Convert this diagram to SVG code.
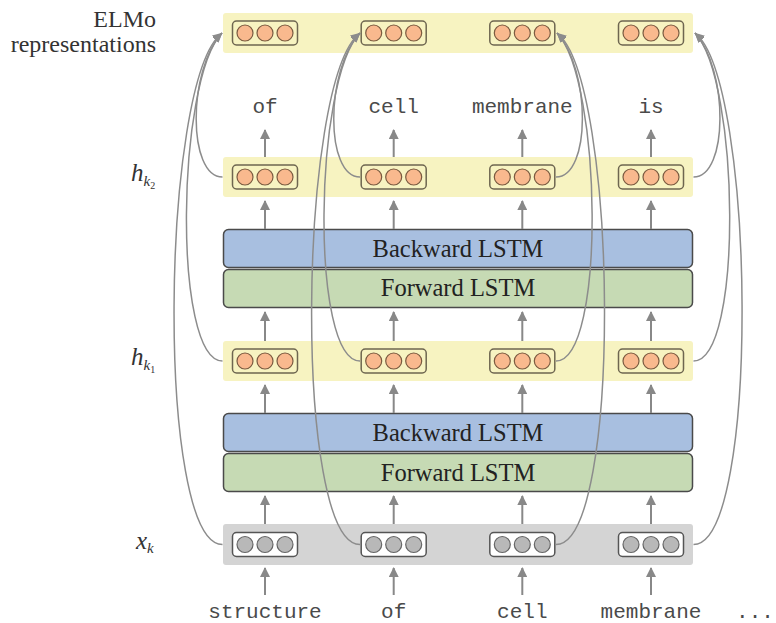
<svg xmlns="http://www.w3.org/2000/svg" width="776" height="623" viewBox="0 0 776 623">
  <style>
    .band-y { fill: #f7f3c1; }
    .band-g { fill: #d4d4d4; }
    .vec { fill: #f7f3c1; stroke: #6e6650; stroke-width: 1.5; }
    .vec-in { fill: #ffffff; stroke: #555555; stroke-width: 1.5; }
    .dot { fill: #f9b98e; stroke: #7a5a40; stroke-width: 1.2; }
    .dot-in { fill: #b8b8b8; stroke: #666666; stroke-width: 1.2; }
    .bwd { fill: #a8bfe0; stroke: #4a4a4a; stroke-width: 1.5; }
    .fwd { fill: #c6dab4; stroke: #4a4a4a; stroke-width: 1.5; }
    .lstm-t { font-family: "Liberation Serif", "DejaVu Serif", serif; font-size: 24.5px; fill: #222222; text-anchor: middle; }
    .side { font-family: "Liberation Serif", "DejaVu Serif", serif; font-size: 24px; fill: #333333; }
    .word { font-family: "Liberation Mono", "DejaVu Sans Mono", monospace; font-size: 21px; fill: #4a4a4a; text-anchor: middle; }
    .up { stroke: #888888; stroke-width: 2; fill: none; marker-end: url(#tip); }
    .skip { stroke: #8c8c8c; stroke-width: 1.5; fill: none; marker-end: url(#tip-s); }
  </style>
  <defs>
    <marker id="tip" viewBox="0 0 10 10" refX="9" refY="5" markerWidth="10" markerHeight="10" markerUnits="userSpaceOnUse" orient="auto">
      <path d="M0,0 L10,5 L0,10 z" fill="#888888"/>
    </marker>
    <marker id="tip-s" viewBox="0 0 10 8" refX="9.5" refY="4" markerWidth="10" markerHeight="8" markerUnits="userSpaceOnUse" orient="auto">
      <path d="M0,0 L10,4 L0,8 z" fill="#8c8c8c"/>
    </marker>
    <!-- one state vector: a rounded box holding three units -->
    <g id="vec-h">
      <rect x="-32.5" y="-12" width="65" height="24" rx="4" class="vec"/>
      <circle cx="-20" cy="0" r="8" class="dot"/>
      <circle cx="0" cy="0" r="8" class="dot"/>
      <circle cx="20" cy="0" r="8" class="dot"/>
    </g>
    <g id="vec-x">
      <rect x="-32.5" y="-12" width="65" height="24" rx="4" class="vec-in"/>
      <circle cx="-20" cy="0" r="8" class="dot-in"/>
      <circle cx="0" cy="0" r="8" class="dot-in"/>
      <circle cx="20" cy="0" r="8" class="dot-in"/>
    </g>
    <!-- the six upward links of one column -->
    <g id="col-ups">
      <path class="up" d="M0,595 V568"/>
      <path class="up" d="M0,524 V496"/>
      <path class="up" d="M0,413 V385"/>
      <path class="up" d="M0,341 V312"/>
      <path class="up" d="M0,229 V201"/>
      <path class="up" d="M0,157 V130"/>
    </g>
  </defs>

  <!-- row labels -->
  <g id="labels">
    <text class="side" x="156" y="27" text-anchor="end">ELMo</text>
    <text class="side" x="156" y="52" text-anchor="end">representations</text>
    <text class="side" x="131" y="181"><tspan font-style="italic" font-size="25">h</tspan><tspan font-style="italic" font-size="15" dy="5">k</tspan><tspan font-size="10" dy="3">2</tspan></text>
    <text class="side" x="131" y="365"><tspan font-style="italic" font-size="25">h</tspan><tspan font-style="italic" font-size="15" dy="5">k</tspan><tspan font-size="10" dy="3">1</tspan></text>
    <text class="side" x="136" y="549"><tspan font-style="italic" font-size="25">x</tspan><tspan font-style="italic" font-size="15" dy="4">k</tspan></text>
  </g>

  <!-- row bands -->
  <g id="bands">
    <rect class="band-y" x="223" y="13" width="470" height="40" rx="3"/>
    <rect class="band-y" x="223" y="157" width="470" height="40" rx="3"/>
    <rect class="band-y" x="223" y="341" width="470" height="40" rx="3"/>
    <rect class="band-g" x="223" y="524" width="470" height="41" rx="3"/>
  </g>

  <!-- biLSTM layers -->
  <g id="lstm2-bwd"><rect class="bwd" x="223.5" y="229.5" width="469" height="38" rx="5"/><text class="lstm-t" x="458" y="256.5">Backward LSTM</text></g>
  <g id="lstm2-fwd"><rect class="fwd" x="223.5" y="269.5" width="469" height="38" rx="5"/><text class="lstm-t" x="458" y="296">Forward LSTM</text></g>
  <g id="lstm1-bwd"><rect class="bwd" x="223.5" y="413.5" width="469" height="38" rx="5"/><text class="lstm-t" x="458" y="440.5">Backward LSTM</text></g>
  <g id="lstm1-fwd"><rect class="fwd" x="223.5" y="453.5" width="469" height="38" rx="5"/><text class="lstm-t" x="458" y="480.5">Forward LSTM</text></g>

  <!-- vectors: ELMo row -->
  <g id="elmo-1"><use href="#vec-h" x="265" y="33"/></g>
  <g id="elmo-2"><use href="#vec-h" x="393.7" y="33"/></g>
  <g id="elmo-3"><use href="#vec-h" x="522.3" y="33"/></g>
  <g id="elmo-4"><use href="#vec-h" x="651" y="33"/></g>
  <!-- vectors: second hidden layer -->
  <g id="h2-1"><use href="#vec-h" x="265" y="177"/></g>
  <g id="h2-2"><use href="#vec-h" x="393.7" y="177"/></g>
  <g id="h2-3"><use href="#vec-h" x="522.3" y="177"/></g>
  <g id="h2-4"><use href="#vec-h" x="651" y="177"/></g>
  <!-- vectors: first hidden layer -->
  <g id="h1-1"><use href="#vec-h" x="265" y="361"/></g>
  <g id="h1-2"><use href="#vec-h" x="393.7" y="361"/></g>
  <g id="h1-3"><use href="#vec-h" x="522.3" y="361"/></g>
  <g id="h1-4"><use href="#vec-h" x="651" y="361"/></g>
  <!-- vectors: token inputs -->
  <g id="x-1"><use href="#vec-x" x="265" y="544.5"/></g>
  <g id="x-2"><use href="#vec-x" x="393.7" y="544.5"/></g>
  <g id="x-3"><use href="#vec-x" x="522.3" y="544.5"/></g>
  <g id="x-4"><use href="#vec-x" x="651" y="544.5"/></g>

  <!-- output words -->
  <g id="out-words">
    <text class="word" x="265" y="113">of</text>
    <text class="word" x="393.7" y="113">cell</text>
    <text class="word" x="522.3" y="113">membrane</text>
    <text class="word" x="651" y="113">is</text>
  </g>
  <!-- input words -->
  <g id="in-words">
    <text class="word" x="265" y="618">structure</text>
    <text class="word" x="393.7" y="618">of</text>
    <text class="word" x="522.3" y="618">cell</text>
    <text class="word" x="651" y="618">membrane</text>
    <text class="word" x="755" y="618">...</text>
  </g>

  <g id="connectors">
    <!-- vertical flow, one column at a time -->
    <g id="up-arrows">
      <use href="#col-ups" x="265"/>
      <use href="#col-ups" x="393.7"/>
      <use href="#col-ups" x="522.3"/>
      <use href="#col-ups" x="651"/>
    </g>
    <!-- skip links from every layer into the ELMo vector -->
    <g id="skip-1">
      <path class="skip" d="M222.5,544.5 C155.5,544.5 160.5,80 222,33"/>
      <path class="skip" d="M222.5,361 C172.5,361 176.5,80 222,33"/>
      <path class="skip" d="M222.5,177 C187.5,177 187.5,70 222,33"/>
    </g>
    <g id="skip-2">
      <path class="skip" d="M360,544.5 C293,544.5 298,80 360,33"/>
      <path class="skip" d="M360,361 C310,361 314,80 360,33"/>
      <path class="skip" d="M360,177 C325,177 325,70 360,33"/>
    </g>
    <g id="skip-3">
      <path class="skip" d="M556,544.5 C623,544.5 618,80 557,33"/>
      <path class="skip" d="M556,361 C606,361 602,80 557,33"/>
      <path class="skip" d="M556,177 C591,177 591,70 557,33"/>
    </g>
    <g id="skip-4">
      <path class="skip" d="M693.5,544.5 C760.5,544.5 755.5,80 695,33"/>
      <path class="skip" d="M693.5,361 C743.5,361 739.5,80 695,33"/>
      <path class="skip" d="M693.5,177 C728.5,177 728.5,70 695,33"/>
    </g>
  </g>
</svg>
